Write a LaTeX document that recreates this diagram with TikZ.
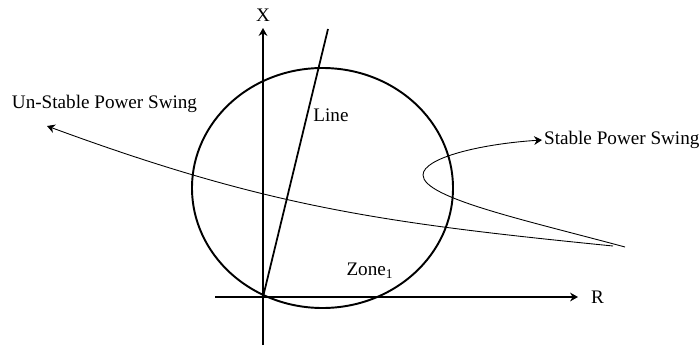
\documentclass[tikz,border=0pt]{standalone}
\usepackage{fontspec}
\setmainfont{Liberation Serif}
\usetikzlibrary{positioning,arrows.meta}

\begin{document}
\begin{tikzpicture}[>={Stealth[length=4.5pt,width=5pt]},
  axis/.style={line width=0.7pt,->},
  swing/.style={line width=0.5pt},
  lbl/.style={inner sep=1pt,font=\fontsize{10.9}{13}\selectfont}]
  \useasboundingbox (0,0) rectangle (14,6.92);
  \coordinate (O) at (5.26,0.98);
  \coordinate (xbot) at (5.26,0.02);
  \coordinate (xtop) at (5.26,6.36);
  \coordinate (rleft) at (4.30,0.98);
  \coordinate (rtip) at (11.56,0.98);
  \node[lbl] (xlab) at (5.26,6.62) {X};
  \node[lbl,anchor=west] (rlab) at (11.78,0.98) {R};
  \draw[axis] (xbot) -- (xtop);
  \draw[axis] (rleft) -- (rtip);
  % zone circle and line
  \draw[line width=1.1pt] (6.45,3.16) ellipse [x radius=2.61, y radius=2.40];
  \coordinate (ltop) at (6.56,6.34);
  \draw[line width=1pt] (O) -- (ltop);
  \node[lbl] (linelab) at (6.62,4.62) {Line};
  \node[lbl] (zone) at (7.40,1.50) {Zone\textsubscript{1}};
  % swings
  \node[lbl] (unstable) at (2.09,4.84) {Un-Stable Power Swing};
  \node[lbl,anchor=west] (stable) at (10.84,4.12) {Stable Power Swing};
  \coordinate (uend) at (12.26,2.00);
  \coordinate (utip) at (0.94,4.40);
  \coordinate (send) at (12.50,1.98);
  \coordinate (nose) at (8.46,3.42);
  \draw[swing,->] (uend) .. controls (7.66,2.46) and (5.34,2.78) .. (utip);
  \draw[swing,->] (send) .. controls (10.50,2.52) and (8.46,2.96) .. (nose)
    .. controls (8.46,3.76) and (9.60,4.04) .. (stable.west);
\end{tikzpicture}
\end{document}
